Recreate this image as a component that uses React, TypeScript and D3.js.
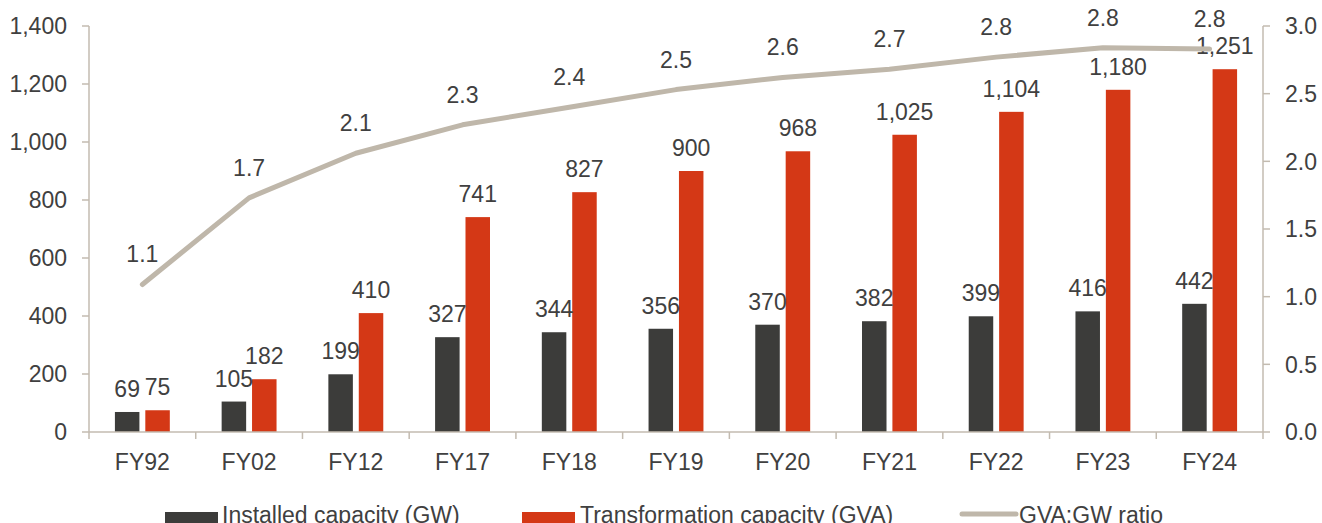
import React from "react";
import * as d3 from "d3";

const categories = ["FY92", "FY02", "FY12", "FY17", "FY18", "FY19", "FY20", "FY21", "FY22", "FY23", "FY24"];
const installed = [69, 105, 199, 327, 344, 356, 370, 382, 399, 416, 442];
const transformation = [75, 182, 410, 741, 827, 900, 968, 1025, 1104, 1180, 1251];
const ratio = [1.09, 1.73, 2.06, 2.27, 2.4, 2.53, 2.62, 2.68, 2.77, 2.84, 2.83];
const ratioLabels = ["1.1", "1.7", "2.1", "2.3", "2.4", "2.5", "2.6", "2.7", "2.8", "2.8", "2.8"];
const leftTicks = [0, 200, 400, 600, 800, 1000, 1200, 1400];
const rightTicks = [0, 0.5, 1.0, 1.5, 2.0, 2.5, 3.0];

const W = 1322, H = 523;
const X0 = 89, X1 = 1263, Y0 = 432, Y1 = 26;
const DARK = "#3c3c3a", RED = "#d43816", LINE = "#bfb7aa", AXIS = "#c3bbb0", TXT = "#404040";
const FONT = "'Liberation Sans', Arial, sans-serif";
const FS = 23;

export default function App() {
  const x = d3.scaleBand<string>().domain(categories).range([X0, X1]);
  const yL = d3.scaleLinear().domain([0, 1400]).range([Y0, Y1]);
  const yR = d3.scaleLinear().domain([0, 3]).range([Y0, Y1]);
  const bw = 24.5, off = 15.2;
  const fmt = d3.format(",");
  const cx = (c: string) => (x(c) as number) + x.bandwidth() / 2;
  const line = d3.line<number>().x((_, i) => cx(categories[i])).y((d) => yR(d));
  const boundaries = [...categories.map((c) => x(c) as number), X1];

  return (
    <svg width={W} height={H} style={{ position: "absolute", left: 0, top: 0, fontFamily: FONT }}>
      <rect width={W} height={H} fill="#fff" />
      {/* left axis */}
      <line x1={X0} x2={X0} y1={Y1} y2={Y0} stroke={AXIS} strokeWidth={1.5} />
      {leftTicks.map((t) => (
        <g key={"l" + t}>
          <line x1={X0 - 7} x2={X0} y1={yL(t)} y2={yL(t)} stroke={AXIS} strokeWidth={1.5} />
          <text x={67} y={yL(t)} dy="0.36em" textAnchor="end" fontSize={FS} fill={TXT}>{fmt(t)}</text>
        </g>
      ))}
      {/* right axis */}
      <line x1={X1} x2={X1} y1={Y1} y2={Y0} stroke={AXIS} strokeWidth={1.5} />
      {rightTicks.map((t) => (
        <g key={"r" + t}>
          <line x1={X1} x2={X1 + 7} y1={yR(t)} y2={yR(t)} stroke={AXIS} strokeWidth={1.5} />
          <text x={1285} y={yR(t)} dy="0.36em" textAnchor="start" fontSize={FS} fill={TXT}>{t.toFixed(1)}</text>
        </g>
      ))}
      {/* bars */}
      {categories.map((c, i) => (
        <g key={c}>
          <rect x={cx(c) - off - bw / 2} y={yL(installed[i])} width={bw} height={Y0 - yL(installed[i])} fill={DARK} />
          <rect x={cx(c) + off - bw / 2} y={yL(transformation[i])} width={bw} height={Y0 - yL(transformation[i])} fill={RED} />
        </g>
      ))}
      {/* bottom axis */}
      <line x1={X0} x2={X1} y1={Y0} y2={Y0} stroke={AXIS} strokeWidth={1.5} />
      {boundaries.map((b, i) => (
        <line key={"b" + i} x1={b} x2={b} y1={Y0} y2={Y0 + 7} stroke={AXIS} strokeWidth={1.5} />
      ))}
      {categories.map((c) => (
        <text key={"x" + c} x={cx(c)} y={470} textAnchor="middle" fontSize={FS} fill={TXT}>{c}</text>
      ))}
      {/* bar labels */}
      {categories.map((c, i) => (
        <g key={"bl" + c}>
          <text x={cx(c) - off} y={yL(installed[i]) - 15} textAnchor="middle" fontSize={FS} fill={TXT}>{fmt(installed[i])}</text>
          <text x={cx(c) + off} y={yL(transformation[i]) - 15} textAnchor="middle" fontSize={FS} fill={TXT}>{fmt(transformation[i])}</text>
        </g>
      ))}
      {/* ratio line */}
      <path d={line(ratio) || ""} fill="none" stroke={LINE} strokeWidth={5} strokeLinecap="round" strokeLinejoin="round" />
      {categories.map((c, i) => (
        <text key={"rl" + c} x={cx(c)} y={yR(ratio[i]) - 22} textAnchor="middle" fontSize={FS} fill={TXT}>{ratioLabels[i]}</text>
      ))}
      {/* legend */}
      <rect x={165} y={512} width={53} height={12} fill={DARK} />
      <text x={222} y={523} fontSize={FS} fill={TXT}>Installed capacity (GW)</text>
      <rect x={522} y={512} width={53} height={12} fill={RED} />
      <text x={580} y={523} fontSize={FS} fill={TXT}>Transformation capacity (GVA)</text>
      <line x1={962} x2={1016} y1={514} y2={514} stroke={LINE} strokeWidth={5} strokeLinecap="round" />
      <text x={1019} y={523} fontSize={FS} fill={TXT}>GVA:GW ratio</text>
    </svg>
  );
}
